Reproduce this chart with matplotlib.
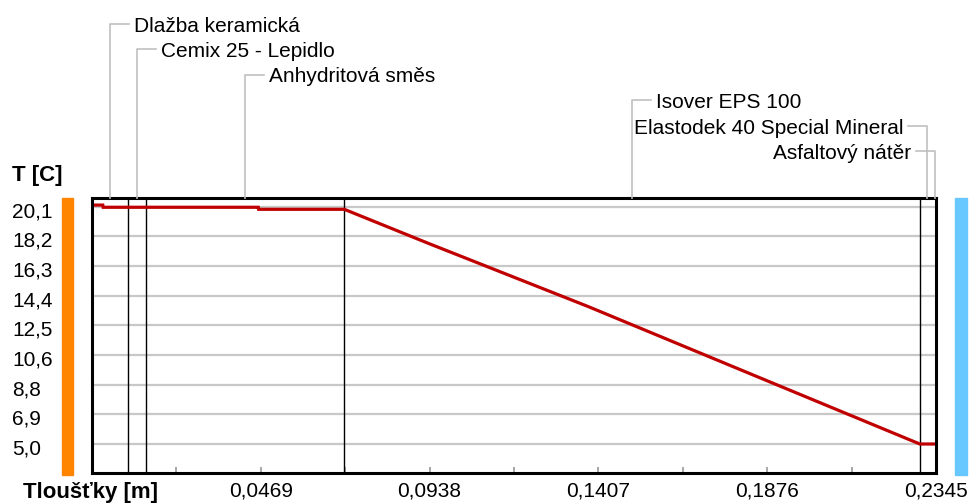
import matplotlib
matplotlib.use("Agg")
import matplotlib.pyplot as plt
from matplotlib.patches import Rectangle
from matplotlib.lines import Line2D
import matplotlib.transforms as mtransforms

plt.rcParams['font.family'] = ['Liberation Sans', 'DejaVu Sans']

# skladba konstrukce (hranice vrstev v m)
layer_names = ["Dlažba keramická", "Cemix 25 - Lepidlo", "Anhydritová směs",
               "Isover EPS 100", "Elastodek 40 Special Mineral", "Asfaltový nátěr"]
layer_edges = [0.0, 0.010, 0.015, 0.070, 0.230, 0.234, 0.2345]
label_side = ["r", "r", "r", "r", "l", "l"]

# průběh teploty
depth = [0.0, 0.003, 0.0031, 0.0462, 0.0463, 0.0701, 0.0934, 0.1379, 0.1837, 0.2300, 0.2345]
temp = [20.2, 20.2, 20.06, 20.06, 19.93, 19.93, 17.77, 13.74, 9.39, 5.0, 5.0]

y_ticks = [5.0, 6.8875, 8.775, 10.6625, 12.55, 14.4375, 16.325, 18.2125, 20.1]
y_labels = ["5,0", "6,9", "8,8", "10,6", "12,5", "14,4", "16,3", "18,2", "20,1"]
x_ticks = [0.0469, 0.0938, 0.1407, 0.1876, 0.2345]
x_minor = [0.02345, 0.07035, 0.11725, 0.16415, 0.21105]
x_labels = ["0,0469", "0,0938", "0,1407", "0,1876", "0,2345"]

W, H = 971, 504
fig = plt.figure(figsize=(W / 100, H / 100), dpi=100)


def fx(px):
    return px / W


def fy(py):
    return 1 - py / H


ax = fig.add_axes([fx(92), fy(473), fx(936) - fx(92), fy(198) - fy(473)])
ax.set_xlim(0, 0.2345)
ax.set_ylim(3.155, 20.65)

ax.set_yticks(y_ticks)
ax.set_yticklabels(y_labels)
ax.set_xticks(x_ticks)
ax.set_xticks(x_minor, minor=True)
ax.set_xticklabels(x_labels)
ax.grid(axis='y', color='#c8c8c8', lw=1.6)
ax.set_axisbelow(True)

ax.tick_params(axis='y', length=0, pad=57.6, labelsize=15)
for lab in ax.get_yticklabels():
    lab.set_horizontalalignment('left')
    lab.set_transform(lab.get_transform() +
                      mtransforms.ScaledTranslation(0, -3 / 100, fig.dpi_scale_trans))
ax.tick_params(axis='x', which='both', direction='in', length=4, width=1.3,
               color='#a0a0a0', labelsize=15, pad=6)

for s in ax.spines.values():
    s.set_linewidth(2.2)
    s.set_color('black')

for e in layer_edges[1:-2]:
    ax.axvline(e, color='black', lw=1.0)

ax.plot(depth, temp, color='#c00000', lw=2.3, solid_joinstyle='miter')

# popisky vrstev s odkazovými čarami
base = 31.5
for i, name in enumerate(layer_names):
    xc = (layer_edges[i] + layer_edges[i + 1]) / 2
    xp = ax.transData.transform((xc, 0))[0]
    yb = base + 25.5 * i
    yh = yb - 8
    if label_side[i] == "r":
        x2 = xp + 19
        tx, ha = x2 + 5, 'left'
    else:
        x2 = xp - 19
        tx, ha = x2 - 5, 'right'
    fig.add_artist(Line2D([fx(xp), fx(xp), fx(x2)], [fy(198), fy(yh), fy(yh)],
                          color='#c0c0c0', lw=1.2, transform=fig.transFigure))
    fig.text(fx(tx), fy(yb), name, ha=ha, va='baseline', fontsize=15)

# barevné pruhy interiér / exteriér
fig.add_artist(Rectangle((fx(62), fy(475)), fx(11), fy(198) - fy(475),
                         color='#ff8400', transform=fig.transFigure))
fig.add_artist(Rectangle((fx(955), fy(475)), fx(12), fy(198) - fy(475),
                         color='#66c8ff', transform=fig.transFigure))

fig.text(fx(12), fy(180.5), "T [C]", fontsize=16, fontweight='bold', va='baseline')
fig.text(fx(23), fy(498), "Tloušťky [m]", fontsize=16, fontweight='bold', va='baseline')

fig.savefig("out.png", dpi=100)
